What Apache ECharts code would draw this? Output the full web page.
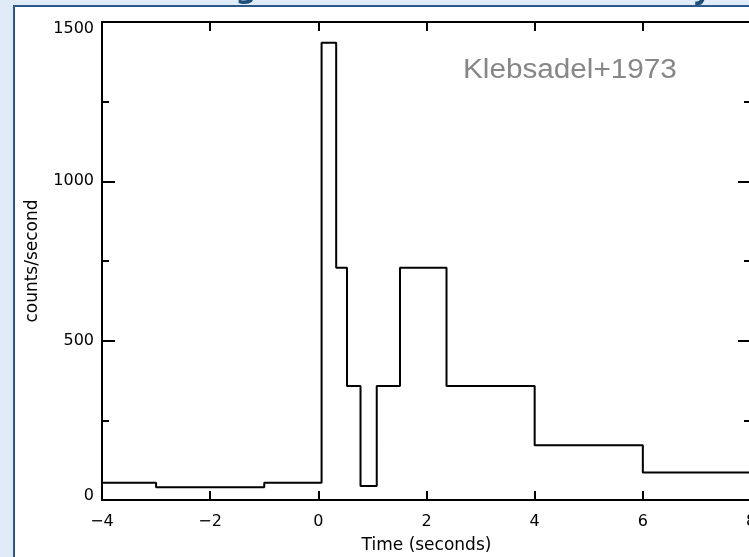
<!DOCTYPE html>
<html>
<head>
<meta charset="utf-8">
<script src="https://cdn.jsdelivr.net/npm/echarts@6/dist/echarts.min.js"></script>
<style>html,body{margin:0;padding:0;background:#dfebf7;}#c{width:749px;height:557px;}</style>
</head>
<body>
<div id="c"></div>
<script>
// Step edges (seconds) and the count rate held over each bin
const edges = [-4, -3, -1, 0.06, 0.33, 0.53, 0.78, 1.08, 1.51, 2.37, 4, 6, 8];
const counts = [54, 40, 54, 1435, 729, 358, 44, 358, 729, 358, 172, 86];
const xTickValues = [-4, -2, 0, 2, 4, 6, 8];
const yTickValues = [0, 500, 1000, 1500];
const xTitle = 'Time (seconds)';
const yTitle = 'counts/second';
const annotation = 'Klebsadel+1973';

const stepData = edges.map((e, i) => [e, counts[Math.min(i, counts.length - 1)]]);

const chart = echarts.init(document.getElementById('c'), null, {renderer: 'canvas'});
const black = '#000';
const font = 'DejaVu Sans';
const yMax = yTickValues[yTickValues.length - 1];

function xAx(pos, labels) {
  return {
    type: 'value', position: pos, min: xTickValues[0], max: xTickValues[xTickValues.length - 1],
    interval: xTickValues[1] - xTickValues[0],
    axisLine: {show: true, onZero: false, lineStyle: {color: black, width: 2}},
    axisTick: {show: true, inside: true, length: 9, lineStyle: {color: black, width: 2}},
    axisLabel: {show: labels, margin: 14, color: black, fontFamily: font, fontSize: 16,
      formatter: v => (v < 0 ? '\u2212' + Math.abs(v) : String(v))},
    splitLine: {show: false},
    name: labels ? xTitle : '', nameLocation: 'middle', nameGap: 37,
    nameTextStyle: {color: black, fontFamily: font, fontSize: 17}
  };
}
function yAx(pos, labels) {
  return {
    type: 'value', position: pos, min: yTickValues[0], max: yMax,
    interval: yTickValues[1] - yTickValues[0],
    axisLine: {show: true, onZero: false, lineStyle: {color: black, width: 2}},
    axisTick: {show: true, inside: true, length: 13, lineStyle: {color: black, width: 2}},
    minorTick: {show: true, splitNumber: 2, length: 7, lineStyle: {color: black, width: 2}},
    axisLabel: {show: labels, margin: 8, color: black, fontFamily: font, fontSize: 16,
      formatter: v => v === yMax ? '{t|' + v + '}' : (v === 0 ? '{b|' + v + '}' : String(v)),
      rich: {t: {padding: [14, 0, 0, 0], fontSize: 16, fontFamily: font, color: black},
             b: {padding: [0, 0, 8, 0], fontSize: 16, fontFamily: font, color: black}}},
    splitLine: {show: false},
    name: labels ? yTitle : '', nameLocation: 'middle', nameGap: 61, nameRotate: 90,
    nameTextStyle: {color: black, fontFamily: font, fontSize: 17}
  };
}

chart.setOption({
  backgroundColor: '#dfebf7',
  animation: false,
  grid: {left: 102, top: 22, width: 649, height: 478, containLabel: false, outerBoundsMode: 'none'},
  xAxis: [xAx('bottom', true), xAx('top', false)],
  yAxis: [yAx('left', true), yAx('right', false)],
  graphic: [
    {type: 'rect', z: -10, shape: {x: 14, y: 6, width: 800, height: 600},
      style: {fill: '#ffffff', stroke: '#2c5a88', lineWidth: 2}},
    {type: 'text', z: -5, x: 246, y: 5, style: {text: 'g', fill: '#1f4e79', font: 'bold 30px "DejaVu Sans"', align: 'center', verticalAlign: 'bottom'}},
    {type: 'text', z: -5, x: 702, y: 6, style: {text: 'y', fill: '#1f4e79', font: 'bold 30px "DejaVu Sans"', align: 'center', verticalAlign: 'bottom'}},
    {type: 'text', x: 463, y: 71, scaleX: 1.1,
      style: {text: annotation, fill: '#878787', font: '27px "Liberation Sans"', align: 'left', verticalAlign: 'middle'}}
  ],
  series: [{
    type: 'line', step: 'end', data: stepData, showSymbol: false, symbol: 'none',
    lineStyle: {color: black, width: 2}, clip: false, z: 3
  }]
});
</script>
</body>
</html>
